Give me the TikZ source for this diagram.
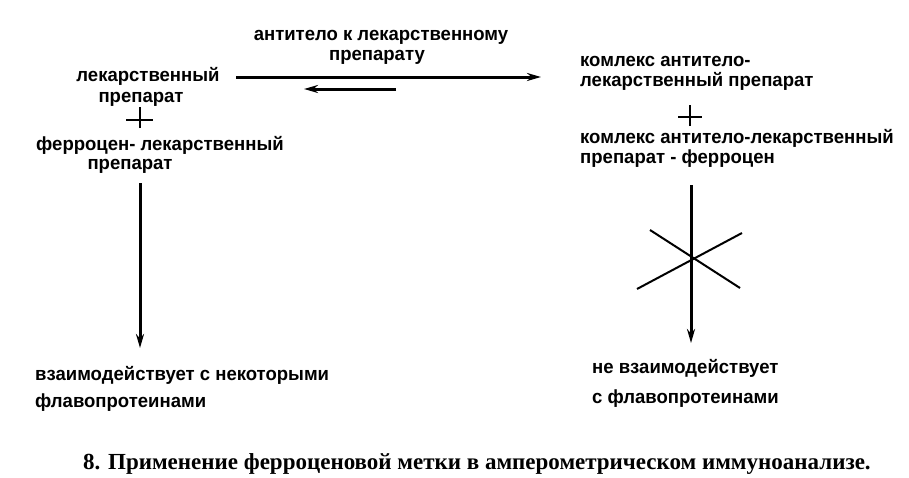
\documentclass[tikz,border=0pt]{standalone}
\usepackage{fontspec}
\setmainfont{Liberation Serif}
\newfontfamily\lblfont{Liberation Sans}[FakeStretch=0.975]
\usetikzlibrary{arrows.meta}
\tikzset{
  lbl/.style={font=\lblfont\bfseries\fontsize{19}{22}\selectfont, inner sep=0pt, anchor=base west},
  lblc/.style={lbl, anchor=base},
  arr/.style={line width=3pt, -{Stealth[length=14pt,width=8pt]}},
  plusline/.style={line width=1.6pt},
  crossline/.style={line width=2pt},
  captext/.style={font=\bfseries\fontsize{23}{27}\selectfont, inner sep=0pt, anchor=base}
}
\begin{document}
\begin{tikzpicture}[x=1pt,y=-1pt]
\path[use as bounding box] (0,0) rectangle (909,477);
% top label
\node[lblc] (t1) at (381,40) {антитело к лекарственному};
\node[lblc] (t2) at (377,60) {препарату};
% left column
\node[lblc] (l1) at (148,81) {лекарственный};
\node[lblc] (l2) at (141,102) {препарат};
\node[lblc] (l3) at (160,150) {ферроцен- лекарственный};
\node[lblc] (l4) at (130,169) {препарат};
% plus left
\coordinate (p1) at (140,120);
\draw[plusline] ([yshift=-8]p1) -- ([yshift=13]p1);
\draw[plusline] ([xshift=-14]p1) -- ([xshift=13]p1);
% right column
\node[lbl] (r1) at (580,66) {комлекс антитело-};
\node[lbl] (r2) at (580,86) {лекарственный препарат};
\node[lbl] (r3) at (580,143) {комлекс антитело-лекарственный};
\node[lbl] (r4) at (580,163) {препарат - ферроцен};
% plus right
\coordinate (p2) at (690,117);
\draw[plusline] ([yshift=-9]p2) -- ([yshift=12]p2);
\draw[plusline] ([xshift=-12]p2) -- ([xshift=12]p2);
% horizontal arrows
\coordinate (hA) at (236,77);
\coordinate (hB) at (541,77);
\draw[arr] (hA) -- (hB);
\coordinate (hC) at (396,89);
\coordinate (hD) at (304,89);
\draw[arr] (hC) -- (hD);
% vertical arrows
\coordinate (vA) at (140,183);
\coordinate (vB) at (140,348);
\draw[arr] (vA) -- (vB);
\coordinate (vC) at (691,185);
\coordinate (vD) at (691,343);
\draw[arr] (vC) -- (vD);
% cross
\coordinate (x1) at (650,230);
\coordinate (x2) at (740,288);
\coordinate (x3) at (637,289);
\coordinate (x4) at (742,233);
\draw[crossline] (x1) -- (x2);
\draw[crossline] (x3) -- (x4);
% bottom texts
\node[lbl] (b1) at (35,380) {взаимодействует с некоторыми};
\node[lbl] (b2) at (35,407) {флавопротеинами};
\node[lbl] (b3) at (592,373) {не взаимодействует};
\node[lbl] (b4) at (592,403) {с флавопротеинами};
% caption
\node[captext] (c) at (477,469) {8. Применение ферроценовой метки в амперометрическом иммуноанализе.};
\end{tikzpicture}
\end{document}
